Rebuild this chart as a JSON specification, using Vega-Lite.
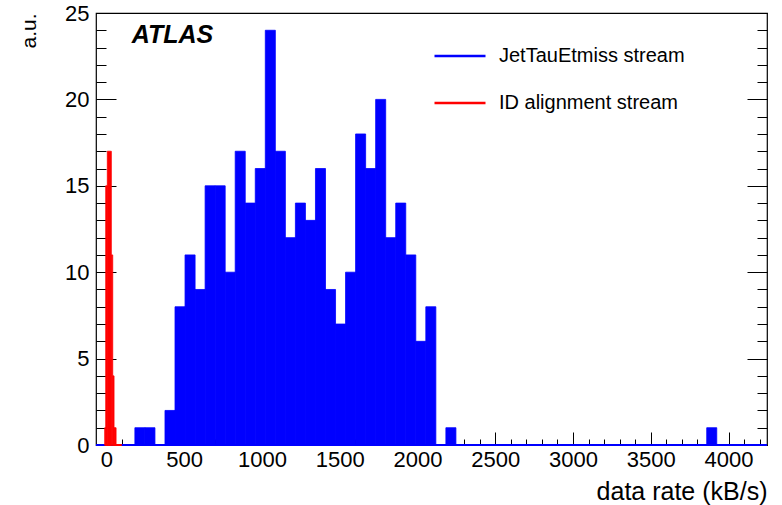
{
  "$schema": "https://vega.github.io/schema/vega-lite/v6.json",
  "width": 671,
  "height": 432,
  "autosize": {"type": "none"},
  "padding": {"left": 96, "top": 13, "right": 15, "bottom": 60},
  "background": "white",
  "config": {
    "view": {"stroke": "#000", "strokeWidth": 1.2},
    "axis": {
      "domain": false, "grid": false,
      "labelFont": "Liberation Sans", "titleFont": "Liberation Sans",
      "labelColor": "#000", "titleColor": "#000", "tickColor": "#000",
      "labelFontSize": 22, "titleFontSize": 25, "titleFontWeight": "normal",
      "tickWidth": 1
    }
  },
  "datasets": {
    "hist": [
      {"stream": "JetTauEtmiss stream", "start": 183, "end": 247.5, "count": 1},
      {"stream": "JetTauEtmiss stream", "start": 247.5, "end": 312, "count": 1},
      {"stream": "JetTauEtmiss stream", "start": 312, "end": 376.5, "count": 0},
      {"stream": "JetTauEtmiss stream", "start": 376.5, "end": 441, "count": 2},
      {"stream": "JetTauEtmiss stream", "start": 441, "end": 505.5, "count": 8},
      {"stream": "JetTauEtmiss stream", "start": 505.5, "end": 570, "count": 11},
      {"stream": "JetTauEtmiss stream", "start": 570, "end": 634.5, "count": 9},
      {"stream": "JetTauEtmiss stream", "start": 634.5, "end": 699, "count": 15},
      {"stream": "JetTauEtmiss stream", "start": 699, "end": 763.5, "count": 15},
      {"stream": "JetTauEtmiss stream", "start": 763.5, "end": 828, "count": 10},
      {"stream": "JetTauEtmiss stream", "start": 828, "end": 892.5, "count": 17},
      {"stream": "JetTauEtmiss stream", "start": 892.5, "end": 957, "count": 14},
      {"stream": "JetTauEtmiss stream", "start": 957, "end": 1021.5, "count": 16},
      {"stream": "JetTauEtmiss stream", "start": 1021.5, "end": 1086, "count": 24},
      {"stream": "JetTauEtmiss stream", "start": 1086, "end": 1150.5, "count": 17},
      {"stream": "JetTauEtmiss stream", "start": 1150.5, "end": 1215, "count": 12},
      {"stream": "JetTauEtmiss stream", "start": 1215, "end": 1279.5, "count": 14},
      {"stream": "JetTauEtmiss stream", "start": 1279.5, "end": 1344, "count": 13},
      {"stream": "JetTauEtmiss stream", "start": 1344, "end": 1408.5, "count": 16},
      {"stream": "JetTauEtmiss stream", "start": 1408.5, "end": 1473, "count": 9},
      {"stream": "JetTauEtmiss stream", "start": 1473, "end": 1537.5, "count": 7},
      {"stream": "JetTauEtmiss stream", "start": 1537.5, "end": 1602, "count": 10},
      {"stream": "JetTauEtmiss stream", "start": 1602, "end": 1666.5, "count": 18},
      {"stream": "JetTauEtmiss stream", "start": 1666.5, "end": 1731, "count": 16},
      {"stream": "JetTauEtmiss stream", "start": 1731, "end": 1795.5, "count": 20},
      {"stream": "JetTauEtmiss stream", "start": 1795.5, "end": 1860, "count": 12},
      {"stream": "JetTauEtmiss stream", "start": 1860, "end": 1924.5, "count": 14},
      {"stream": "JetTauEtmiss stream", "start": 1924.5, "end": 1989, "count": 11},
      {"stream": "JetTauEtmiss stream", "start": 1989, "end": 2053.5, "count": 6},
      {"stream": "JetTauEtmiss stream", "start": 2053.5, "end": 2118, "count": 8},
      {"stream": "JetTauEtmiss stream", "start": 2182.5, "end": 2247, "count": 1},
      {"stream": "JetTauEtmiss stream", "start": 3859.5, "end": 3924, "count": 1},
      {"stream": "ID alignment stream", "start": -11, "end": -4.5, "count": 1},
      {"stream": "ID alignment stream", "start": -4.5, "end": 5.8, "count": 15},
      {"stream": "ID alignment stream", "start": 5.8, "end": 31.5, "count": 17},
      {"stream": "ID alignment stream", "start": 31.5, "end": 40.5, "count": 11},
      {"stream": "ID alignment stream", "start": 40.5, "end": 49, "count": 4},
      {"stream": "ID alignment stream", "start": 49, "end": 62, "count": 1},
      {"stream": "ID alignment stream", "start": 62, "end": 98, "count": 0}
    ]
  },
  "data": {"name": "hist"},
  "layer": [
    {
      "mark": {"type": "rule", "color": "#0000ff", "strokeWidth": 2},
      "encoding": {
        "y": {"datum": 0, "type": "quantitative", "scale": {"domain": [0, 25], "nice": false}, "axis": null}
      }
    },
    {
      "mark": {"type": "bar", "strokeWidth": 0.8},
      "encoding": {
        "x": {"field": "start", "type": "quantitative", "scale": {"domain": [-67, 4247], "nice": false, "zero": false},
              "axis": {"orient": "bottom", "values": [0, 500, 1000, 1500, 2000, 2500, 3000, 3500, 4000], "format": "d", "ticks": false, "labelPadding": 4,
                       "title": "data rate (kB/s)", "titleAnchor": "end", "titleAlign": "right", "titleBaseline": "alphabetic", "titleX": 671, "titleY": 54}},
        "x2": {"field": "end"},
        "y": {"field": "count", "type": "quantitative", "scale": {"domain": [0, 25], "nice": false},
              "axis": {"orient": "left", "values": [0, 5, 10, 15, 20, 25], "format": "d", "ticks": false, "labelPadding": 7,
                       "title": "a.u.", "titleAngle": -90, "titleAlign": "right", "titleBaseline": "alphabetic", "titleAnchor": "end", "titleX": -61, "titleY": 0, "titleFontSize": 21}},
        "y2": {"datum": 0},
        "color": {"field": "stream", "type": "nominal", "scale": {"domain": ["JetTauEtmiss stream", "ID alignment stream"], "range": ["#0000ff", "#ff0000"]},
                  "legend": {"orient": "none", "legendX": 337, "legendY": 16, "title": null, "symbolType": "stroke", "symbolSize": 2601, "symbolStrokeWidth": 2.5,
                             "labelFont": "Liberation Sans", "labelFontSize": 20, "labelColor": "#000", "labelOffset": 12, "labelLimit": 400, "rowPadding": 10, "padding": 0}},
        "stroke": {"field": "stream", "type": "nominal", "scale": {"domain": ["JetTauEtmiss stream", "ID alignment stream"], "range": ["#0000ff", "#ff0000"]}, "legend": null}
      }
    },
    {
      "mark": {"type": "rule", "strokeWidth": 2},
      "encoding": {
        "x": {"field": "start", "type": "quantitative", "scale": {"domain": [-67, 4247], "nice": false, "zero": false},
              "axis": {"orient": "bottom", "values": [0, 500, 1000, 1500, 2000, 2500, 3000, 3500, 4000], "labels": false, "tickSize": 13, "offset": -13, "title": null}},
        "x2": {"field": "end"},
        "y": {"datum": 0, "type": "quantitative", "scale": {"domain": [0, 25], "nice": false}, "axis": null},
        "color": {"field": "stream", "type": "nominal", "scale": {"domain": ["JetTauEtmiss stream", "ID alignment stream"], "range": ["#0000ff", "#ff0000"]},
                  "legend": {"orient": "none", "legendX": 337, "legendY": 16, "title": null, "symbolType": "stroke", "symbolSize": 2601, "symbolStrokeWidth": 2.5,
                             "labelFont": "Liberation Sans", "labelFontSize": 20, "labelColor": "#000", "labelOffset": 12, "labelLimit": 400, "rowPadding": 10, "padding": 0}}
      }
    },
    {
      "mark": {"type": "point", "opacity": 0},
      "encoding": {
        "x": {"field": "start", "type": "quantitative", "scale": {"domain": [-67, 4247], "nice": false, "zero": false},
              "axis": {"orient": "bottom", "values": [0,100,200,300,400,500,600,700,800,900,1000,1100,1200,1300,1400,1500,1600,1700,1800,1900,2000,2100,2200,2300,2400,2500,2600,2700,2800,2900,3000,3100,3200,3300,3400,3500,3600,3700,3800,3900,4000,4100,4200], "labels": false, "tickSize": 6, "offset": -6, "title": null}},
        "y": {"field": "count", "type": "quantitative", "scale": {"domain": [0, 25], "nice": false},
              "axis": {"orient": "left", "values": [0, 5, 10, 15, 20, 25], "labels": false, "tickSize": 20, "offset": -20, "title": null}}
      }
    },
    {
      "mark": {"type": "point", "opacity": 0},
      "encoding": {
        "x": {"field": "start", "type": "quantitative", "scale": {"domain": [-67, 4247], "nice": false, "zero": false}, "axis": null},
        "y": {"field": "count", "type": "quantitative", "scale": {"domain": [0, 25], "nice": false},
              "axis": {"orient": "left", "values": [0,1,2,3,4,5,6,7,8,9,10,11,12,13,14,15,16,17,18,19,20,21,22,23,24,25], "labels": false, "tickSize": 10, "offset": -10, "title": null}}
      }
    },
    {
      "mark": {"type": "point", "opacity": 0},
      "encoding": {
        "x": {"field": "start", "type": "quantitative", "scale": {"domain": [-67, 4247], "nice": false, "zero": false}, "axis": null},
        "y": {"field": "count", "type": "quantitative", "scale": {"domain": [0, 25], "nice": false},
              "axis": {"orient": "right", "values": [0, 5, 10, 15, 20, 25], "labels": false, "tickSize": 20, "offset": -20, "title": null}}
      }
    },
    {
      "mark": {"type": "point", "opacity": 0},
      "encoding": {
        "x": {"field": "start", "type": "quantitative", "scale": {"domain": [-67, 4247], "nice": false, "zero": false}, "axis": null},
        "y": {"field": "count", "type": "quantitative", "scale": {"domain": [0, 25], "nice": false},
              "axis": {"orient": "right", "values": [0,1,2,3,4,5,6,7,8,9,10,11,12,13,14,15,16,17,18,19,20,21,22,23,24,25], "labels": false, "tickSize": 10, "offset": -10, "title": null}}
      }
    },
    {
      "data": {"values": [{"label": "ATLAS"}]},
      "mark": {"type": "text", "font": "Liberation Sans", "fontWeight": "bold", "fontStyle": "italic", "fontSize": 25, "align": "left", "baseline": "alphabetic", "color": "#000"},
      "encoding": {
        "x": {"datum": 163, "type": "quantitative", "scale": {"domain": [-67, 4247], "nice": false, "zero": false}, "axis": null},
        "y": {"datum": 23.26, "type": "quantitative", "scale": {"domain": [0, 25], "nice": false}, "axis": null},
        "text": {"field": "label"}
      }
    }
  ],
  "resolve": {"axis": {"x": "independent", "y": "independent"}}
}
